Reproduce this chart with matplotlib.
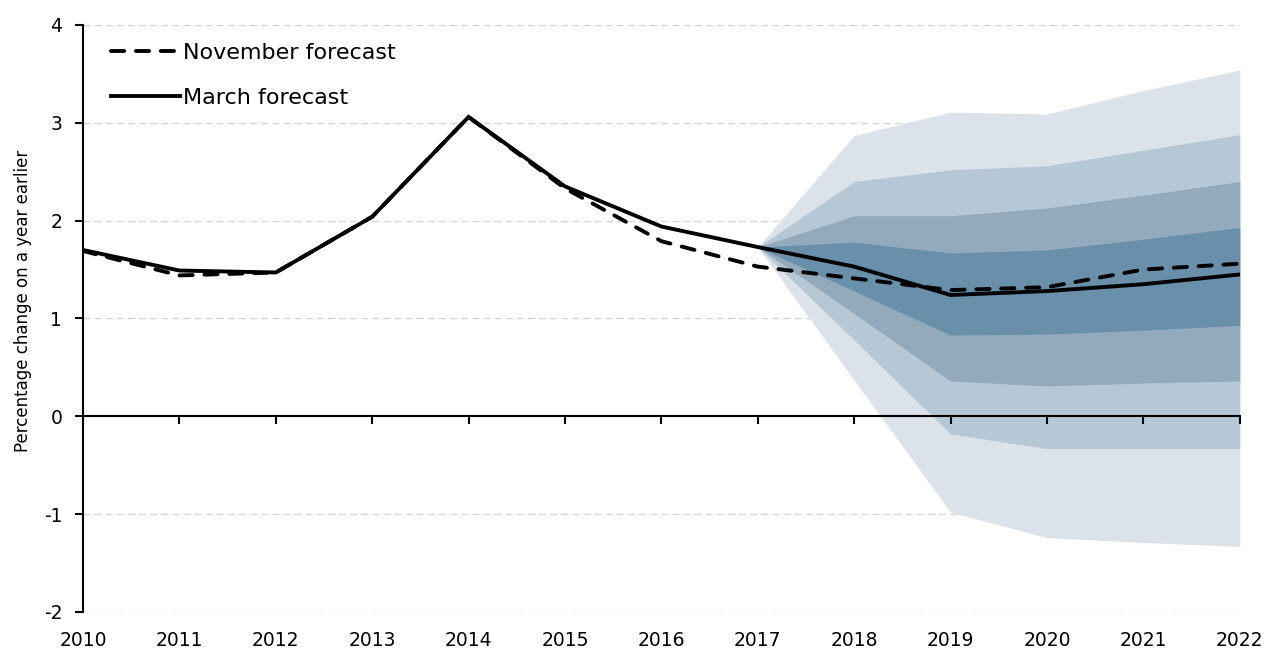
import matplotlib.pyplot as plt
import numpy as np

plt.rcParams['font.family'] = ['DejaVu Sans']
plt.rcParams['axes.unicode_minus'] = False

# Data
years = list(range(2010, 2023))
march = [1.70, 1.49, 1.47, 2.04, 3.06, 2.35, 1.94, 1.73, 1.53, 1.24, 1.28, 1.35, 1.45]
november = [1.69, 1.44, 1.47, 2.04, 3.06, 2.33, 1.79, 1.53, 1.41, 1.29, 1.32, 1.50, 1.56]

# fan chart bands (from 2017 onwards), outer to inner
fan_years = [2017, 2018, 2019, 2020, 2021, 2022]
outer_hi = [1.73, 2.87, 3.11, 3.09, 3.33, 3.54]
outer_lo = [1.73, 0.37, -0.98, -1.24, -1.29, -1.33]
mid2_hi = [1.73, 2.40, 2.52, 2.56, 2.72, 2.88]
mid2_lo = [1.73, 0.78, -0.18, -0.33, -0.33, -0.33]
mid3_hi = [1.73, 2.05, 2.05, 2.13, 2.26, 2.40]
mid3_lo = [1.73, 1.05, 0.36, 0.31, 0.34, 0.36]
inner_hi = [1.73, 1.78, 1.67, 1.70, 1.81, 1.93]
inner_lo = [1.73, 1.28, 0.83, 0.84, 0.88, 0.93]

band_colors = ['#dbe2e9', '#b6c8d6', '#93aabd', '#6a8fab']

fig = plt.figure(figsize=(12.67, 6.51), dpi=100)
ax = fig.add_axes([0.0655, 0.06, 0.913, 0.9016])

# grid
for yv in [-2, -1, 1, 2, 3, 4]:
    ax.axhline(yv, color='#d6d6d6', lw=1, ls=(0, (5, 3)), zorder=0)

bands = [(outer_lo, outer_hi), (mid2_lo, mid2_hi), (mid3_lo, mid3_hi), (inner_lo, inner_hi)]
for (lo, hi), c in zip(bands, band_colors):
    ax.fill_between(fan_years, lo, hi, color=c, lw=0, zorder=1)

l_mar, = ax.plot(years, march, color='black', lw=2.8, zorder=3,
                 solid_joinstyle='miter', label='March forecast')
l_nov, = ax.plot(years, november, color='black', lw=2.8, zorder=4,
                 dashes=(3.4, 3.0), dash_capstyle='round', label='November forecast')

ax.set_xlim(2010, 2022)
ax.set_ylim(-2, 4)
ax.set_yticks(range(-2, 5))
ax.set_xticks(years)

for s in ['top', 'right']:
    ax.spines[s].set_visible(False)
ax.spines['bottom'].set_position(('data', 0))
ax.spines['left'].set_linewidth(1.5)
ax.spines['bottom'].set_linewidth(1.5)
ax.tick_params(axis='x', direction='out', length=6, width=1.5, labelbottom=False)
ax.tick_params(axis='y', direction='out', length=6, width=1.5, labelsize=13.5, pad=9)

sec = ax.secondary_xaxis(0.0)
sec.set_xticks(years)
sec.spines['bottom'].set_visible(False)
sec.tick_params(length=0, labelsize=13.5, pad=14)

ax.set_ylabel('Percentage change on a year earlier', fontsize=12)
ax.yaxis.set_label_coords(-0.044, 0.53)

ax.legend(handles=[l_nov, l_mar], loc='upper left', frameon=False, fontsize=16,
          handlelength=3.1, handletextpad=0.15, labelspacing=1.15,
          borderaxespad=0, bbox_to_anchor=(0.0165, 0.985))

fig.savefig('out.png', dpi=100)
